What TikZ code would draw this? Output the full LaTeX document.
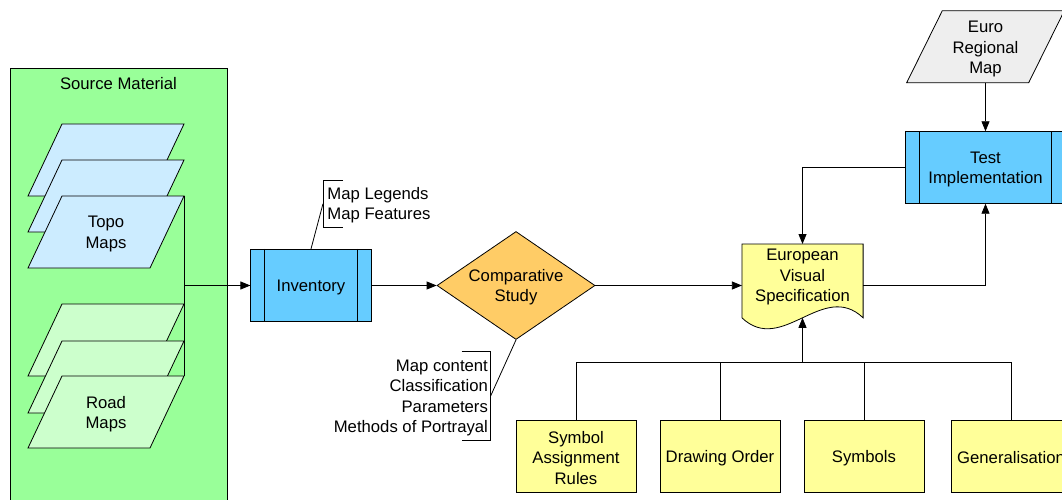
\documentclass[tikz,border=0pt]{standalone}
\usepackage{fontspec}
\setmainfont{Liberation Sans}
\usetikzlibrary{arrows.meta,shapes.geometric}
\definecolor{srcgreen}{HTML}{99FF99}
\definecolor{topoblue}{HTML}{CCECFF}
\definecolor{roadgreen}{HTML}{CCFFCC}
\definecolor{procblue}{HTML}{66CCFF}
\definecolor{decorange}{HTML}{FFCC66}
\definecolor{docyellow}{HTML}{FFFF99}
\definecolor{datagray}{HTML}{EEEEEE}
\begin{document}
\begin{tikzpicture}[x=1pt,y=-1pt,
  font=\fontsize{16.7}{20.3}\selectfont, line width=0.8pt,
  every node/.style={inner sep=0pt, align=center},
  lowtext/.style={yshift=-2pt},
  procbox/.style={draw, fill=procblue, minimum width=120.4pt, minimum height=72.4pt},
  ybox/.style={draw, fill=docyellow, minimum width=120pt, minimum height=72pt},
  conn/.style={draw, -{Triangle[length=10pt,width=8pt]}},
  sheetpath/.style={draw, fill=#1},
  pics/mapsheet/.style={code={\path[sheetpath=#1] (34,0) -- (156,0) -- (122,72) -- (0,72) -- cycle;}}
]
\useasboundingbox (0,0) rectangle (1062,500);
\clip (0,0) rectangle (1062,500);

% Source material
\node[draw, fill=srcgreen, minimum width=217pt, minimum height=460pt, anchor=north west] (src) at (10,68.3) {};
\node[lowtext] (srct) at (118.5,82) {Source Material};

\pic at (28,124) {mapsheet=topoblue};
\pic at (28,160) {mapsheet=topoblue};
\pic at (28,196) {mapsheet=topoblue};
\node[lowtext] (topo) at (106,232) {Topo\\Maps};

\pic at (28,304) {mapsheet=roadgreen};
\pic at (28,341) {mapsheet=roadgreen};
\pic at (28,376) {mapsheet=roadgreen};
\node[lowtext] (road) at (106,412) {Road\\Maps};

\coordinate (topoc) at (184,196);
\coordinate (roadc) at (184,376);

% Inventory
\node[procbox] (inv) at (311,285.5) {};
\node[lowtext] (invt) at (inv) {Inventory};
\draw ([xshift=14.3pt]inv.north west) -- ([xshift=14.3pt]inv.south west);
\draw ([xshift=-14.3pt]inv.north east) -- ([xshift=-14.3pt]inv.south east);

\draw (topoc) -- (roadc);
\draw[conn] (topoc |- inv.west) -- (inv.west);

% Comparative study
\node[diamond, draw, fill=decorange, minimum width=158pt, minimum height=108pt, aspect=1.463] (cmp) at (516,285.5) {};
\node[lowtext] (cmpt) at (cmp) {Comparative\\Study};
\draw[conn] (inv.east) -- (cmp.west);

% Annotation 1
\node[lowtext, anchor=west, align=left] (ann1) at (327,203) {Map Legends\\Map Features};
\coordinate (a1) at (323,203.7);
\draw (343,180) -- (323,180) -- (323,227.3) -- (343,227.3);
\draw (inv.north) -- (a1);

% Annotation 2
\node[lowtext, anchor=east, align=right] (ann2) at (488.3,396) {Map content\\Classification\\Parameters\\Methods of Portrayal};
\coordinate (a2) at (490.7,395.8);
\draw (461.7,351.7) -- (490.7,351.7) -- (490.7,440) -- (461.7,440);
\draw (cmp.south) -- (a2);

% European Visual Specification (document shape)
\node[minimum width=120.4pt, minimum height=73pt, anchor=north] (evs) at (802.5,244) {};
\path[draw, fill=docyellow] (evs.south west) -- (evs.north west) -- (evs.north east) -- (evs.south east)
  .. controls +(-40.1,-38) and +(40.1,38) .. (evs.south west) -- cycle;
\node[lowtext] (evst) at (802.5,275) {European\\Visual\\Specification};
\draw[conn] (cmp.east) -- (cmp.east -| evs.west);

% Test implementation
\node[procbox, minimum width=159.3pt, minimum height=71.6pt] (ti) at (985.5,167.5) {};
\node[lowtext] (tit) at (ti) {Test\\Implementation};
\draw ([xshift=14.3pt]ti.north west) -- ([xshift=14.3pt]ti.south west);
\draw ([xshift=-14.3pt]ti.north east) -- ([xshift=-14.3pt]ti.south east);

% Euro Regional Map
\path[draw, fill=datagray] (906.7,82.7) -- (942.3,10.7) -- (1064.3,10.7) -- (1028.7,82.7) -- cycle;
\node[lowtext] (erm) at (985.5,47) {Euro\\Regional\\Map};
\coordinate (ermb) at (985.5,82.7);
\draw[conn] (ermb) -- (ti.north);

\draw[conn] (ti.west) -| (evs.north);
\draw[conn] (evs.east |- cmp.east) -| (ti.south);

% Bottom boxes
\node[ybox] (b1) at (576,456) {};
\node[lowtext] (b1t) at (b1) {Symbol\\Assignment\\Rules};
\node[ybox] (b2) at (720,456) {};
\node[lowtext] (b2t) at (b2) {Drawing Order};
\node[ybox] (b3) at (864,456) {};
\node[lowtext] (b3t) at (b3) {Symbols};
\node[ybox] (b4) at (1011,456) {};
\node[lowtext] (b4t) at (b4) {Generalisation};
\coordinate (bus) at (802.5,362.7);
\draw (b1.north) |- (b4.north |- bus) -- (b4.north);
\draw (b2.north) -- (b2.north |- bus);
\draw (b3.north) -- (b3.north |- bus);
\draw[conn] (bus) -- (evs.south);
\end{tikzpicture}
\end{document}
